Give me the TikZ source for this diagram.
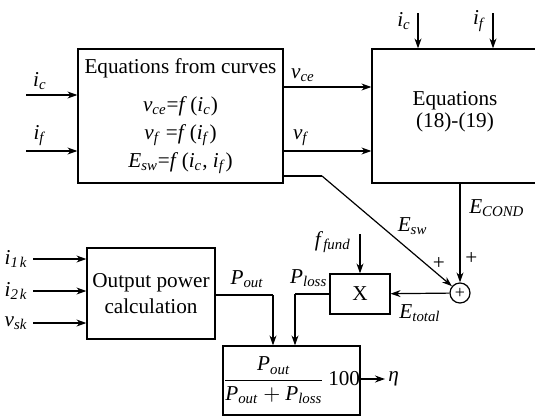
\documentclass[tikz,border=0pt]{standalone}
\usepackage{fontspec}
\setmainfont{Liberation Serif}
\usetikzlibrary{positioning, arrows.meta}
\tikzset{
    block/.style = {draw, line width=0.6pt, align=center, inner sep=0pt},
    sig/.style = {draw, line width=0.6pt, -{Stealth[length=5pt, width=3.5pt]}},
    wire/.style = {draw, line width=0.6pt},
}
\newcommand{\sym}[2]{\textit{#1}\textsubscript{\textit{#2}}}

\begin{document}
\begin{tikzpicture}[x=0.5pt, y=-0.5pt, font=\fontsize{10.6}{13}\selectfont]
        \useasboundingbox (0,0) rectangle (535,418);
        \clip (0,0) rectangle (535,418);

        \node[block, minimum width=102.5pt, minimum height=67pt] (curves) at (180.5,116)
            {Equations from curves\\[6pt] \sym{v}{ce}=\textit{f}\,(\sym{i}{c})\\[1pt] \sym{v}{f} =\textit{f}\,(\sym{i}{f})\\[1pt] \sym{E}{sw}=\textit{f}\,(\sym{i}{c}, \sym{i}{f})};
        \node[block, minimum width=83pt, minimum height=67pt, font=\fontsize{10.6}{11}\selectfont] (eqs) at (455,116) {Equations\\(18)-(19)\\[-4pt]};

        \node[block, minimum width=64pt, minimum height=45.5pt] (outpow) at (151,293.5) {Output power\\calculation};
        \node[block, minimum width=30pt, minimum height=20pt] (mult) at (360,294) {X};
        \node[draw, line width=0.6pt, circle, minimum size=10pt, inner sep=0pt] (sum) at (460,293) {\small +};
        \node[block, minimum width=68.5pt, minimum height=34.5pt] (eff) at (291.5,380.5)
            {$\displaystyle\frac{\mbox{\sym{P}{out}}}{\mbox{\sym{P}{out}}+\mbox{\sym{P}{loss}}}$\,100};

        % free ends
        \coordinate (icin) at (26,95);
        \coordinate (ifin) at (26,151);
        \coordinate (ictop) at (418,13);
        \coordinate (iftop) at (493,13);
        \coordinate (i1k) at (33,259);
        \coordinate (i2k) at (33,291);
        \coordinate (vsk) at (33,323);
        \coordinate (ffund) at (360,234);
        \coordinate (eswturn) at (322,176);
        \coordinate (plossturn) at (295,294);
        \coordinate (poutturn) at (273,295);
        \coordinate (eta) at (385,379);

        \draw[sig] (icin) -- (icin -| curves.west) node [pos=0.27, above=-1pt] {\sym{i}{c}};
        \draw[sig] (ifin) -- (ifin -| curves.west) node [pos=0.27, above=-1pt] {\sym{i}{f}};
        \draw[sig] (curves.east |- 0,87) -- (eqs.west |- 0,87) node [pos=0.22, above=-1pt] {\sym{v}{ce}};
        \draw[sig] (curves.east |- 0,151) -- (eqs.west |- 0,151) node [pos=0.2, above=-1pt] {\sym{v}{f}};
        \draw[sig] (ictop) node [left=0pt, yshift=-4pt] {\sym{i}{c}} -- (ictop |- eqs.north);
        \draw[sig] (iftop) node [left=0pt, yshift=-4pt] {\sym{i}{f}} -- (iftop |- eqs.north);

        \draw[wire] (curves.east |- eswturn) -- (eswturn);
        \draw[sig] (eswturn) -- (sum) node [pos=0.56, above right=-3pt] {\sym{E}{sw}} node [pos=0.9, above=-1pt] {+};
        \draw[sig] (sum |- eqs.south) -- (sum) node [pos=0.25, right=1pt] {\sym{E}{COND}} node [pos=0.76, right=-1pt] {+};
        \draw[sig] (sum) -- (mult) node [midway, below=2pt] {\sym{E}{total}};
        \draw[sig] (ffund) node [left=1pt, yshift=-4pt] {\sym{f}{fund}} -- (mult);

        \draw[sig] (i1k) node [left=-1pt] {\sym{i}{1\kern1pt k}} -- (i1k -| outpow.west);
        \draw[sig] (i2k) node [left=-1pt] {\sym{i}{2\kern1pt k}} -- (i2k -| outpow.west);
        \draw[sig] (vsk) node [left=-1pt] {\sym{v}{sk}} -- (vsk -| outpow.west);

        \draw[wire] (outpow.east |- poutturn) -- (poutturn) node [pos=0.55, above=0pt] {\sym{P}{out}};
        \draw[sig] (poutturn) -- (poutturn |- eff.north);
        \draw[wire] (mult.west) -- (plossturn) node [pos=0.6, above=0pt] {\sym{P}{loss}};
        \draw[sig] (plossturn) -- (plossturn |- eff.north);
        \draw[sig] (eff.east |- eta) -- (eta) node [right=-2pt] {\textit{η}};
    \end{tikzpicture}
\end{document}
